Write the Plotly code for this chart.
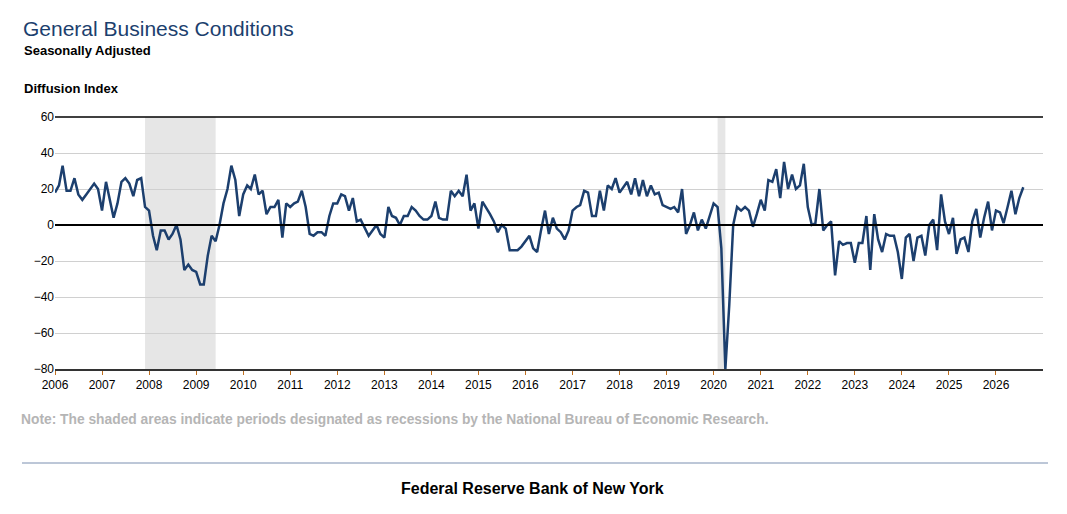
import plotly.graph_objects as go
import pandas as pd

# monthly diffusion index, Jan 2006 onward
values = [
    18, 22, 33, 19, 19, 26, 17, 14, 17, 20, 23, 20,   # 2006
    8, 24, 14, 4, 12, 24, 26, 23, 16, 25, 26, 10,     # 2007
    8, -6, -14, -3, -3, -8, -5, 0, -8, -25, -22, -25, # 2008
    -26, -33, -33, -17, -6, -9, 0, 12, 20, 33, 25, 5, # 2009
    17, 22, 20, 28, 17, 19, 6, 10, 10, 14, -7, 12,    # 2010
    10, 12, 13, 19, 10, -5, -6, -4, -4, -6, 5, 12,    # 2011
    12, 17, 16, 8, 15, 2, 3, -2, -6, -3, 0, -5,       # 2012
    -7, 10, 5, 4, 0, 5, 5, 10, 8, 5, 3, 3,            # 2013
    5, 13, 4, 3, 3, 19, 16, 19, 16, 28, 8, 12,        # 2014
    -2, 13, 10, 6, 2, -4, 0, -2, -14, -14, -14, -12,  # 2015
    -9, -6, -13, -15, -3, 8, -5, 4, -2, -4, -8, -3,   # 2016
    8, 10, 11, 19, 18, 5, 5, 19, 8, 22, 20, 26,       # 2017
    18, 21, 24, 17, 26, 16, 25, 16, 22, 17, 18, 11,   # 2018
    10, 9, 10, 7, 20, -5, 0, 7, -3, 3, -2, 5,         # 2019
    12, 10, -13, -80, -45, 0, 10, 8, 10, 8, -1, 6,    # 2020
    14, 8, 25, 24, 31, 15, 35, 20, 28, 20, 22, 34,    # 2021
    10, 0, 1, 20, -3, 0, 2, -28, -9, -11, -10, -10,   # 2022
    -21, -10, -10, 5, -25, 6, -8, -15, -5, -6, -6, -15,   # 2023
    -30, -7, -5, -20, -7, -6, -17, 0, 3, -14, 17, 2,      # 2024
    -5, 4, -16, -8, -7, -15, 2, 9, -7, 4, 13, -3,         # 2025
    8, 7, 1, 10, 19, 6, 15, 21,                           # 2026
]
dates = pd.date_range("2006-01-01", periods=len(values), freq="MS")

recessions = [("2007-12-01", "2009-06-01"), ("2020-02-01", "2020-04-01")]
years = [f"{y}-01-01" for y in range(2006, 2027)]
year_labels = [str(y) for y in range(2006, 2027)]

font = "Liberation Sans, Arial, sans-serif"
W, H = 1051, 498
L, R, T, B = 47, 16, 109, 137
PW, PH = W - L - R, H - T - B

shapes = [dict(type="rect", xref="x", yref="paper", x0=s, x1=e, y0=0, y1=1,
               fillcolor="#e6e6e6", line_width=0, layer="below") for s, e in recessions]
shapes += [
    dict(type="line", xref="paper", yref="paper", x0=0, x1=1, y0=1, y1=1,
         line=dict(color="black", width=1.5)),
    dict(type="line", xref="paper", yref="y", x0=0, x1=1, y0=0, y1=0,
         line=dict(color="black", width=2)),
    dict(type="line", xref="paper", yref="paper", x0=(14 - L) / PW, x1=(1040 - L) / PW,
         y0=(T + PH - 455) / PH, y1=(T + PH - 455) / PH, line=dict(color="#7a8fb0", width=1)),
]

fig = go.Figure()
fig.add_trace(go.Scatter(x=dates, y=values, mode="lines",
                         line=dict(color="#1c3f6e", width=2.5), hoverinfo="x+y"))

fig.update_layout(
    width=W, height=H,
    paper_bgcolor="white", plot_bgcolor="white",
    margin=dict(l=L, r=R, t=T, b=B),
    showlegend=False,
    font=dict(family=font, size=12, color="black"),
    xaxis=dict(range=["2006-01-01", "2027-01-01"], tickvals=years, ticktext=year_labels,
               showgrid=False, ticks="outside", ticklen=4, tickcolor="#c07020",
               showline=True, linecolor="#333", linewidth=2,
               tickfont=dict(size=12, family=font, color="black")),
    yaxis=dict(range=[-80, 60], dtick=20, showgrid=True, gridcolor="#d0d0d0",
               zeroline=False, ticks="", tickfont=dict(size=12, family=font, color="black")),
    shapes=shapes,
)


def note(text, x, y, size, color, bold=False, xanchor="left"):
    # x, y are page pixels; page has an 8px offset
    fig.add_annotation(text=f"<b>{text}</b>" if bold else text, xref="paper", yref="paper",
                       x=(x - 8 - L) / PW, y=(T + PH - (y - 8)) / PH, xanchor=xanchor,
                       yanchor="middle", showarrow=False,
                       font=dict(family=font, size=size, color=color))


note("General Business Conditions", 21, 29, 21, "#1c3f6e")
note("Seasonally Adjusted", 22, 50, 13, "black", bold=True)
note("Diffusion Index", 22, 89, 13, "black", bold=True)
note("Note: The shaded areas indicate periods designated as recessions by the National Bureau of Economic Research.",
     19, 419, 13.8, "#b5b5b5", bold=True)
note("Federal Reserve Bank of New York", 532, 488, 16, "black", bold=True, xanchor="center")

fig.write_html("out.html")
